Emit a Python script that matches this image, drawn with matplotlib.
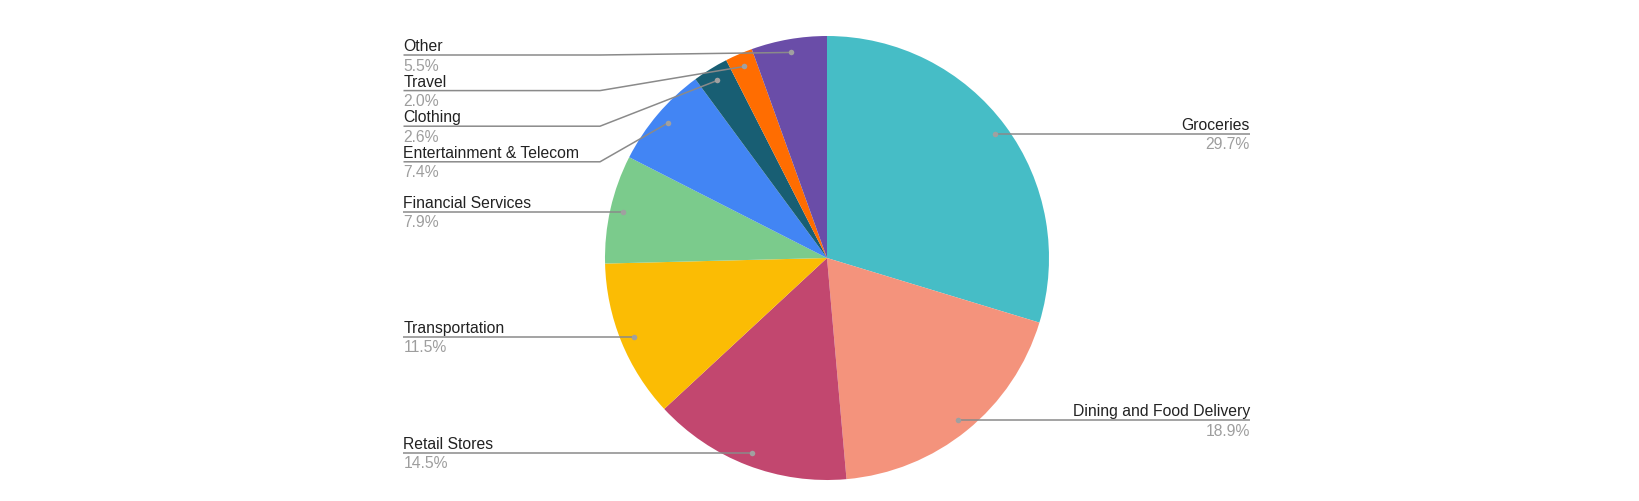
import numpy as np
import matplotlib
matplotlib.use("Agg")
import matplotlib.pyplot as plt

# spending categories, clockwise from 12 o'clock
categories = ["Groceries", "Dining and Food Delivery", "Retail Stores", "Transportation",
              "Financial Services", "Entertainment & Telecom", "Clothing", "Travel", "Other"]
shares = [29.7, 18.9, 14.5, 11.5, 7.9, 7.4, 2.6, 2.0, 5.5]
colors = ["#46BDC6", "#F4937C", "#C2476F", "#FBBC04", "#7BCB8C",
          "#4285F4", "#185E73", "#FF6D01", "#6A4DA8"]

W, H = 1640, 501
fig = plt.figure(figsize=(W / 100, H / 100), dpi=100)
ax = fig.add_axes([0, 0, 1, 1])
plt.rcParams['font.family'] = ['Liberation Sans', 'DejaVu Sans']

cx, cy, r = 827, H - 258, 222
wedges, _ = ax.pie(shares, colors=colors, startangle=90, counterclock=False,
                   center=(cx, cy), radius=r, wedgeprops=dict(linewidth=0))

ax.set_xlim(0, W)
ax.set_ylim(0, H)
ax.set_aspect('auto')
ax.axis('off')

line_col = "#8a8a8a"
left_x, right_x = 403.5, 1250
elbow_x = 600
gap = 35.6
top_y = H - 55  # highest line allowed
fs = 11.3

# dots on the slices
pts = []
for w in wedges:
    ang = np.deg2rad((w.theta1 + w.theta2) / 2)
    pts.append((cx + 0.94 * r * np.cos(ang), cy + 0.94 * r * np.sin(ang)))

# left side labels: stack from top so they don't overlap
left = [i for i, (px, py) in enumerate(pts) if px < cx]
left.sort(key=lambda i: -pts[i][1])
label_y = {}
prev = None
for i in left:
    y = min(pts[i][1], top_y)
    if prev is not None:
        y = min(y, prev - gap)
    label_y[i] = y
    prev = y
for i, (px, py) in enumerate(pts):
    if px >= cx:
        label_y[i] = py

for i, (px, py) in enumerate(pts):
    ly = label_y[i]
    if px < cx:
        if abs(ly - py) > 0.5:
            xs = [left_x, elbow_x, px]
            ys = [ly, ly, py]
        else:
            xs = [left_x, px]
            ys = [ly, py]
        tx, ha = left_x, 'left'
    else:
        xs = [px, right_x]
        ys = [py, ly]
        tx, ha = right_x, 'right'
    ax.plot(xs, ys, color=line_col, lw=1.1, solid_capstyle='butt', zorder=3)
    ax.plot([px], [py], 'o', color="#a0a0a0", ms=4, mec='none', zorder=4)
    ax.text(tx, ly + 4, categories[i], ha=ha, va='baseline', fontsize=fs, color="#222222")
    ax.text(tx, ly - 3.5, f"{shares[i]:.1f}%", ha=ha, va='top', fontsize=fs, color="#9e9e9e")

fig.savefig("out.png", dpi=100)
